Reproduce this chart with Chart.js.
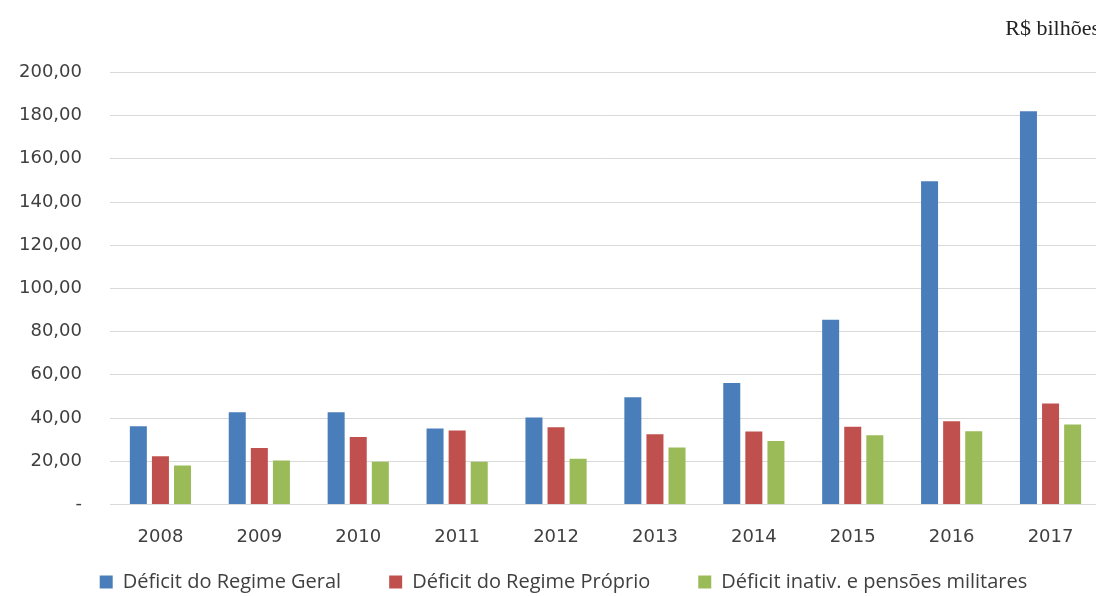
<!DOCTYPE html>
<html lang="pt">
<head>
    <meta charset="UTF-8">
    <title>Déficit previdenciário</title>
    <script src="https://cdn.jsdelivr.net/npm/chart.js"></script>
    <style>
        body {
            margin: 0;
            background: #ffffff;
            overflow: hidden;
        }
        .wrap {
            position: relative;
            width: 1100px;
            height: 596px;
        }
    </style>
</head>
<body>
    <div class="wrap">
        <canvas id="deficitChart"></canvas>
    </div>

    <script>
        // Valores em R$ bilhões
        const anos = ['2008', '2009', '2010', '2011', '2012', '2013', '2014', '2015', '2016', '2017'];
        const regimeGeral = [36.2, 42.7, 42.7, 35.1, 40.2, 49.6, 56.2, 85.5, 149.6, 182.0];
        const regimeProprio = [22.3, 26.1, 31.2, 34.2, 35.7, 32.5, 33.7, 35.9, 38.5, 46.7];
        const militares = [18.0, 20.3, 19.8, 19.8, 21.1, 26.3, 29.4, 32.0, 33.9, 37.0];

        const cinza = '#404040';

        // legend padding is only wanted between the items; move the row back
        // up so its text sits ~14px above the bottom edge, and nudge it right
        const legendRow = {
            id: 'legendRow',
            afterLayout(chart) {
                const lg = chart.legend;
                if (!lg) return;
                const labels = lg.options.labels;
                const itemH = Math.max(labels.font.size, labels.boxHeight);
                lg.top = chart.height - 14 - labels.padding - itemH / 2;
                lg.bottom = chart.height;
                lg.left += 18;
                lg.right += 18;
            }
        };

        const ctx = document.getElementById('deficitChart').getContext('2d');
        new Chart(ctx, {
            type: 'bar',
            data: {
                labels: anos,
                datasets: [
                    {
                        label: 'Déficit do Regime Geral',
                        data: regimeGeral,
                        backgroundColor: '#4a7ebb'
                    },
                    {
                        label: 'Déficit do Regime Próprio',
                        data: regimeProprio,
                        backgroundColor: '#c0504d'
                    },
                    {
                        label: 'Déficit inativ. e pensões militares',
                        data: militares,
                        backgroundColor: '#9bbb59'
                    }
                ]
            },
            plugins: [legendRow],
            options: {
                responsive: true,
                maintainAspectRatio: false,
                animation: false,
                datasets: {
                    bar: {
                        barPercentage: 0.77,
                        categoryPercentage: 0.67
                    }
                },
                layout: {
                    padding: { left: -9, right: 0, top: 0, bottom: 0 }
                },
                plugins: {
                    title: {
                        display: true,
                        text: 'R$ bilhões',
                        align: 'end',
                        color: '#222222',
                        font: { family: 'Liberation Serif', size: 22, weight: 'normal' },
                        padding: { top: 16, bottom: 30 }
                    },
                    legend: {
                        position: 'bottom',
                        maxHeight: 34,
                        labels: {
                            boxWidth: 13,
                            boxHeight: 13,
                            padding: 48,
                            color: cinza,
                            font: { family: 'Open Sans', size: 20 }
                        }
                    },
                    tooltip: { enabled: false }
                },
                scales: {
                    x: {
                        grid: { display: false },
                        border: { display: false },
                        ticks: {
                            color: cinza,
                            padding: 14,
                            font: { family: 'DejaVu Sans', size: 18 }
                        }
                    },
                    y: {
                        min: 0,
                        max: 200,
                        grid: { color: '#d9d9d9', tickLength: 1 },
                        border: { display: false },
                        ticks: {
                            stepSize: 20,
                            color: cinza,
                            padding: 28,
                            font: { family: 'DejaVu Sans', size: 18 },
                            callback: v => v === 0 ? '-' : v.toFixed(2).replace('.', ',')
                        }
                    }
                }
            }
        });
    </script>
</body>
</html>
